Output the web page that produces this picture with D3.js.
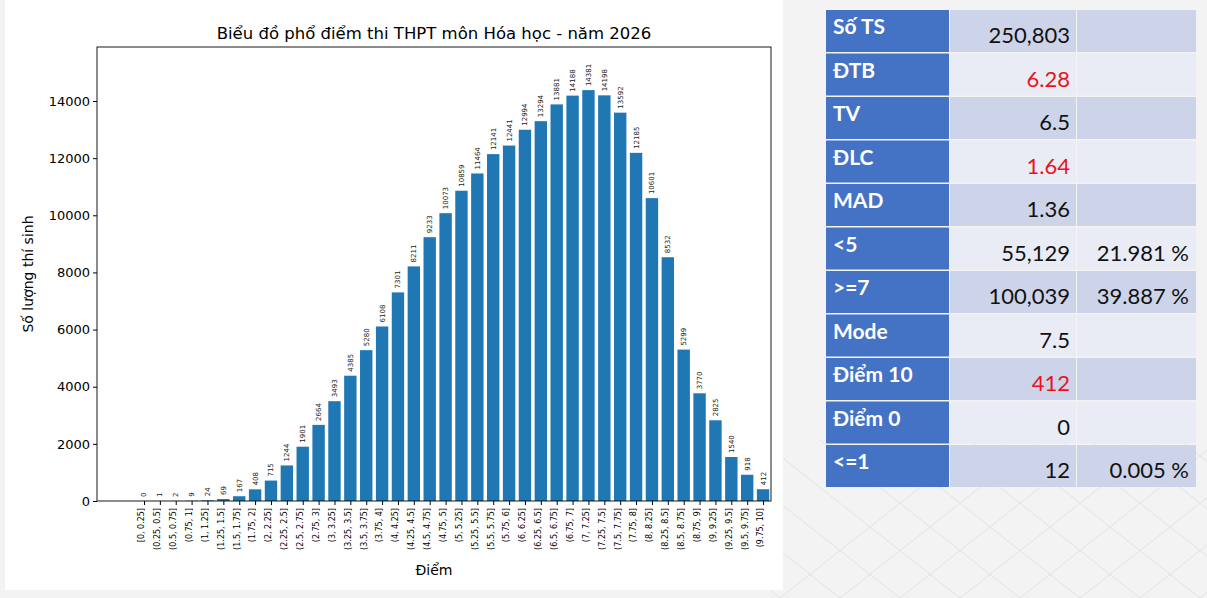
<!DOCTYPE html>
<html><head><meta charset="utf-8">
<script src="https://cdn.jsdelivr.net/npm/d3@7"></script>
<style>body{margin:0;background:#f3f3f4;}svg{display:block}</style>
</head><body><svg id="c" width="1207" height="598"></svg>
<script>
const categories=["[0, 0.25]","(0.25, 0.5]","(0.5, 0.75]","(0.75, 1]","(1, 1.25]","(1.25, 1.5]","(1.5, 1.75]","(1.75, 2]","(2, 2.25]","(2.25, 2.5]","(2.5, 2.75]","(2.75, 3]","(3, 3.25]","(3.25, 3.5]","(3.5, 3.75]","(3.75, 4]","(4, 4.25]","(4.25, 4.5]","(4.5, 4.75]","(4.75, 5]","(5, 5.25]","(5.25, 5.5]","(5.5, 5.75]","(5.75, 6]","(6, 6.25]","(6.25, 6.5]","(6.5, 6.75]","(6.75, 7]","(7, 7.25]","(7.25, 7.5]","(7.5, 7.75]","(7.75, 8]","(8, 8.25]","(8.25, 8.5]","(8.5, 8.75]","(8.75, 9]","(9, 9.25]","(9.25, 9.5]","(9.5, 9.75]","(9.75, 10]"];
const counts=[0,1,2,9,24,69,167,408,715,1244,1901,2664,3493,4385,5280,6108,7301,8211,9233,10073,10859,11464,12141,12441,12994,13294,13881,14188,14381,14198,13592,12185,10601,8532,5299,3770,2825,1540,918,412];
const yTicks=[0,2000,4000,6000,8000,10000,12000,14000];
const tableLabels=["Số TS","ĐTB","TV","ĐLC","MAD","<5",">=7","Mode","Điểm 10","Điểm 0","<=1"];
const tableValues=["250,803","6.28","6.5","1.64","1.36","55,129","100,039","7.5","412","0","12"];
const tablePercents=["","","","","","21.981 %","39.887 %","","","","0.005 %"];
const redRows=["ĐTB","ĐLC","Điểm 10"];

const svg=d3.select("#c");
const bg=svg.append("g").attr("stroke","#e2e2e4").attr("stroke-width",1);
for(let i=0;i<12;i++){bg.append("line").attr("x1",780+i*60).attr("y1",598).attr("x2",780+i*60+200).attr("y2",440);
bg.append("line").attr("x1",780+i*60-200).attr("y1",440).attr("x2",780+i*60).attr("y2",598);}
svg.append("rect").attr("x",5).attr("y",0).attr("width",778).attr("height",590).attr("fill","#fff");

const L=97,R=771,T=47,B=501;
const x=d3.scaleLinear().domain([-2.96,39.5]).range([L,R]);
const y=d3.scaleLinear().domain([0,14000]).range([B,101]);
const g=svg.append("g").attr("font-family","DejaVu Sans");
const bw=x(0.39)-x(-0.39);
g.selectAll("rect.b").data(counts).join("rect").attr("fill","#1f77b4")
 .attr("x",(d,i)=>x(i)-bw/2).attr("width",bw).attr("y",d=>y(d)).attr("height",d=>B-y(d));
g.selectAll("text.v").data(counts).join("text").attr("font-size",7).attr("fill","#222")
 .attr("transform",(d,i)=>`translate(${x(i)+2.5},${y(d)-4}) rotate(-90)`).text(d=>d);
g.append("rect").attr("x",L).attr("y",T).attr("width",R-L).attr("height",B-T).attr("fill","none").attr("stroke","#000").attr("stroke-width",0.9);
const ya=g.append("g").attr("transform",`translate(${L},0)`).call(d3.axisLeft(y).tickValues(yTicks).tickSize(4).tickFormat(d3.format("d")));
ya.select(".domain").remove();ya.selectAll("text").attr("font-size",13).attr("fill","#000").attr("font-family","DejaVu Sans");
const xa=g.append("g").attr("transform",`translate(0,${B})`).call(d3.axisBottom(x).tickValues(d3.range(40)).tickSize(4).tickFormat(i=>categories[i]));
xa.select(".domain").remove();
xa.selectAll("text").attr("font-size",8).attr("font-family","DejaVu Sans").attr("text-anchor","end").attr("transform","rotate(-90)").attr("x",-7).attr("y",-3).attr("dy","0.35em");
g.append("text").attr("x",(L+R)/2).attr("y",39).attr("text-anchor","middle").attr("font-size",16.5).text("Biểu đồ phổ điểm thi THPT môn Hóa học - năm 2026");
g.append("text").attr("x",(L+R)/2).attr("y",575).attr("text-anchor","middle").attr("font-size",14).text("Điểm");
g.append("text").attr("transform",`translate(33,${(T+B)/2}) rotate(-90)`).attr("text-anchor","middle").attr("font-size",14).text("Số lượng thí sinh");

const tx=[826,950,1077,1196],ty0=10,rh=43.5;
const t=svg.append("g").attr("font-family","Lato, Noto Sans");
tableLabels.forEach((lab,i)=>{
 const yy=ty0+i*rh, bgc=i%2==0?"#cdd4ea":"#e9ebf5";
 t.append("rect").attr("x",tx[0]).attr("y",yy).attr("width",tx[1]-tx[0]-1).attr("height",rh-1.5).attr("fill","#4472c4");
 t.append("rect").attr("x",tx[1]).attr("y",yy).attr("width",tx[2]-tx[1]-1).attr("height",rh-1.5).attr("fill",bgc);
 t.append("rect").attr("x",tx[2]).attr("y",yy).attr("width",tx[3]-tx[2]).attr("height",rh-1.5).attr("fill",bgc);
 t.append("text").attr("x",tx[0]+7).attr("y",yy+24).attr("fill","#fff").attr("font-weight","bold").attr("font-size",21).text(lab);
 t.append("text").attr("x",tx[2]-7).attr("y",yy+33).attr("text-anchor","end").attr("font-size",22)
  .attr("fill",redRows.includes(lab)?"#e8141c":"#111").text(tableValues[i]);
 if(tablePercents[i]) t.append("text").attr("x",tx[3]-7).attr("y",yy+33).attr("text-anchor","end").attr("font-size",22).attr("fill","#111").text(tablePercents[i]);
});
</script></body></html>
